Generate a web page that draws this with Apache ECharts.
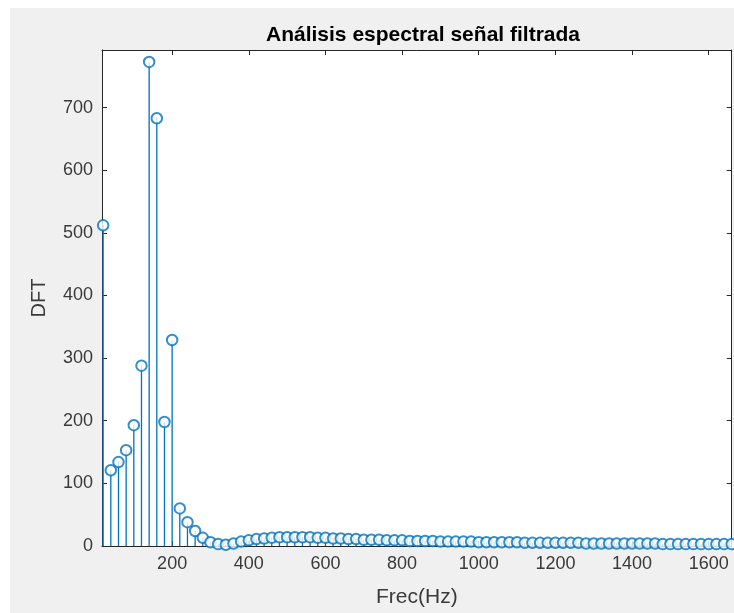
<!DOCTYPE html>
<html><head><meta charset="utf-8">
<script src="https://cdn.jsdelivr.net/npm/echarts@6/dist/echarts.min.js"></script>
<style>html,body{margin:0;padding:0;background:#fff}#c{width:734px;height:613px}</style>
</head><body><div id="c"></div>
<script>
const freqs = [20,40,60,80,100,120,140,160,180,200,220,240,260,280,300,320,340,360,380,400,
  420,440,460,480,500,520,540,560,580,600,620,640,660,680,700,720,740,760,780,800,
  820,840,860,880,900,920,940,960,980,1000,1020,1040,1060,1080,1100,1120,1140,1160,1180,1200,
  1220,1240,1260,1280,1300,1320,1340,1360,1380,1400,1420,1440,1460,1480,1500,1520,1540,1560,1580,1600,
  1620,1640,1660];
const dftValues = [512,121,134,153,193,288,773,683,198,329,60,38,24,13,6,3,2,4,7,9,
  11,12,13,14,14,14,14,14,13,13,12,12,11,11,10,10,10,9,9,9,
  8,8,8,8,7,7,7,7,7,6,6,6,6,6,6,5,5,5,5,5,
  5,5,5,4,4,4,4,4,4,4,4,4,4,3,3,3,3,3,3,3,
  3,3,3];
const xTicks = [200,400,600,800,1000,1200,1400,1600];
const yTicks = [0,100,200,300,400,500,600,700];
const titleText = 'Análisis espectral señal filtrada';
const xName = 'Frec(Hz)';
const yName = 'DFT';

const data = freqs.map((f, i) => [f, dftValues[i]]);
const FONT = '"Liberation Sans", Arial, Helvetica, sans-serif';
const AX = '#262626';
const TXT = '#3a3a3a';
const BLUE = '#0072BD';
const XMIN = 17, XMAX = 1660, YMIN = 0, YMAX = 792;

const chart = echarts.init(document.getElementById('c'), null, {renderer: 'canvas'});
const axisCommon = {
  axisLine: {show: true, onZero: false, lineStyle: {color: AX, width: 1}},
  splitLine: {show: false}
};
const plain = v => String(v);
chart.setOption({
  backgroundColor: '#ffffff',
  animation: false,
  graphic: [{type: 'rect', z: -100, shape: {x: 10, y: 8, width: 724, height: 605}, style: {fill: '#f0f0f0'}}],
  title: {
    text: titleText, left: 418, top: 20, textAlign: 'center',
    textStyle: {fontFamily: FONT, fontSize: 21, fontWeight: 'bold', color: '#000'}
  },
  grid: {left: 102, top: 50, right: 2.3, bottom: 64.7, show: true, backgroundColor: '#fff', borderWidth: 0},
  xAxis: [
    Object.assign({}, axisCommon, {
      type: 'value', min: XMIN, max: XMAX, position: 'bottom',
      name: xName, nameLocation: 'middle', nameGap: 41,
      nameTextStyle: {fontFamily: FONT, fontSize: 21, color: TXT},
      axisTick: {show: true, inside: true, length: 5, customValues: xTicks, lineStyle: {color: AX}},
      axisLabel: {customValues: xTicks, formatter: plain, margin: 9, fontFamily: FONT, fontSize: 18, color: TXT}
    }),
    Object.assign({}, axisCommon, {
      type: 'value', min: XMIN, max: XMAX, position: 'top',
      axisTick: {show: true, inside: true, length: 5, customValues: xTicks, lineStyle: {color: AX}},
      axisLabel: {show: false, customValues: xTicks}
    })
  ],
  yAxis: [
    Object.assign({}, axisCommon, {
      type: 'value', min: YMIN, max: YMAX, position: 'left',
      name: yName, nameLocation: 'middle', nameGap: 53, nameRotate: 90,
      nameTextStyle: {fontFamily: FONT, fontSize: 20, color: TXT},
      axisTick: {show: true, inside: true, length: 5, customValues: yTicks, lineStyle: {color: AX}},
      axisLabel: {customValues: yTicks, formatter: plain, margin: 9, fontFamily: FONT, fontSize: 18, color: TXT}
    }),
    Object.assign({}, axisCommon, {
      type: 'value', min: YMIN, max: YMAX, position: 'right',
      axisTick: {show: true, inside: true, length: 5, customValues: yTicks, lineStyle: {color: AX}},
      axisLabel: {show: false, customValues: yTicks}
    })
  ],
  series: [
    {
      type: 'custom', xAxisIndex: 0, yAxisIndex: 0, data: data, clip: true,
      renderItem: function (params, api) {
        const p0 = api.coord([api.value(0), 0]);
        const p1 = api.coord([api.value(0), api.value(1)]);
        return {type: 'line', shape: {x1: p0[0], y1: p0[1], x2: p1[0], y2: p1[1]},
          style: {stroke: BLUE, lineWidth: 1.3}};
      }
    },
    {
      type: 'scatter', xAxisIndex: 0, yAxisIndex: 0, data: data, clip: false,
      symbol: 'emptyCircle', symbolSize: 10.5,
      itemStyle: {color: BLUE, borderColor: BLUE, borderWidth: 1.1},
      emphasis: {disabled: true}
    }
  ]
});
</script>
</body></html>
